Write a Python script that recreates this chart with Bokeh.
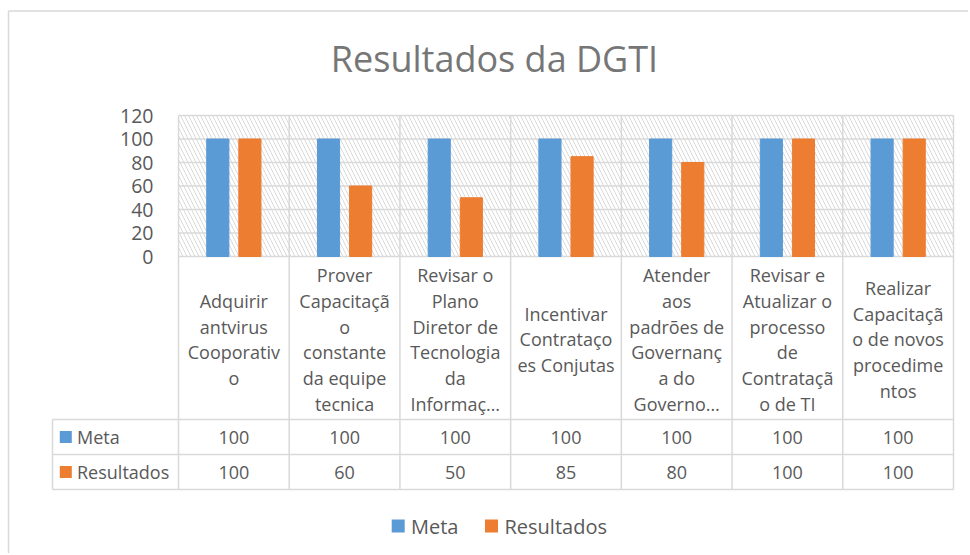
from bokeh.plotting import figure
from bokeh.models import Range1d
from bokeh.core.properties import value
from bokeh.embed import file_html
from bokeh.resources import INLINE

# ---------------- data ----------------
categories = [
    "Adquirir\nantvirus\nCooporativ\no",
    "Prover\nCapacitaçã\no\nconstante\nda equipe\ntecnica",
    "Revisar o\nPlano\nDiretor de\nTecnologia\nda\nInformaç…",
    "Incentivar\nContrataço\nes Conjutas",
    "Atender\naos\npadrões de\nGovernanç\na do\nGoverno…",
    "Revisar e\nAtualizar o\nprocesso\nde\nContrataçã\no de TI",
    "Realizar\nCapacitaçã\no de novos\nprocedime\nntos",
]
meta = [100, 100, 100, 100, 100, 100, 100]
resultados = [100, 60, 50, 85, 80, 100, 100]
series_names = ["Meta", "Resultados"]
y_ticks = [0, 20, 40, 60, 80, 100, 120]
title_text = "Resultados da DGTI"

# ---------------- style ----------------
BLUE = "#5B9BD5"
ORANGE = "#ED7D31"
GRID = "#D9D9D9"
TXT = "#595959"
FONT = "Open Sans"

n = len(categories)
centers = [i + 0.5 for i in range(n)]
YMAX = y_ticks[-1]

# ---------------- layout geometry (page pixels) ----------------
W, H = 968, 553            # figure size; the figure sits at the page origin
ORG_X, ORG_Y = 0, 0
PLOT_L, PLOT_R = 178, 953  # plot area left/right
PLOT_T, PLOT_B = 115, 256  # value YMAX / value 0
COLW = (PLOT_R - PLOT_L) / n
KY = (PLOT_B - PLOT_T) / YMAX


def X(px):
    return (px - PLOT_L) / COLW


def Y(py):
    return (PLOT_B - py) / KY


p = figure(width=W, height=H,
           x_range=Range1d(X(ORG_X), X(ORG_X + W)),
           y_range=Range1d(Y(ORG_Y + H), Y(ORG_Y)),
           output_backend="svg", toolbar_location=None,
           x_axis_location=None, y_axis_location=None, min_border=0)
p.outline_line_color = None
p.grid.visible = False
p.background_fill_color = "white"
p.border_fill_color = "white"

# chart area border (top and left visible in the reference)
p.segment(x0=[X(8), X(8)], y0=[Y(10.5), Y(10.5)], x1=[X(ORG_X + W), X(8)], y1=[Y(10.5), Y(ORG_Y + H)],
          line_color=GRID, line_width=1.5)

# hatched plot area background
p.quad(left=[0], right=[n], bottom=[0], top=[YMAX], fill_color="white", line_color=None,
       hatch_pattern="\\", hatch_color=GRID, hatch_scale=8, hatch_weight=1, level="image")

# horizontal gridlines
p.segment(x0=[0] * len(y_ticks), y0=y_ticks, x1=[n] * len(y_ticks), y1=y_ticks,
          line_color=GRID, line_width=1.5)

# table geometry
HEAD_B = 419
ROW1_B = 454
ROW2_B = 489
TAB_L = 52

# vertical lines: plot area + header cells + data rows
vx = list(range(n + 1))
p.segment(x0=vx, y0=[YMAX] * len(vx), x1=vx, y1=[Y(ROW2_B)] * len(vx), line_color=GRID, line_width=1.5)
p.segment(x0=[X(TAB_L)], y0=[Y(HEAD_B)], x1=[X(TAB_L)], y1=[Y(ROW2_B)], line_color=GRID, line_width=1.5)
hy = [Y(HEAD_B), Y(ROW1_B), Y(ROW2_B)]
p.segment(x0=[X(TAB_L)] * 3, y0=hy, x1=[n] * 3, y1=hy, line_color=GRID, line_width=1.5)

# bars
p.vbar(x=[c - 0.145 for c in centers], top=meta, width=0.2, color=BLUE)
p.vbar(x=[c + 0.145 for c in centers], top=resultados, width=0.2, color=ORANGE)

# value axis labels
p.text(x=[X(153)] * len(y_ticks), y=y_ticks, text=[str(t) for t in y_ticks],
       text_align="right", text_baseline="middle", text_font=value(FONT),
       text_font_size="19.5px", text_color=TXT)

# title
p.text(x=[X(494)], y=[Y(58)], text=[title_text], text_align="center",
       text_baseline="middle", text_font=value(FONT), text_font_size="36px",
       text_color="#767676")

# category labels (table header)
p.text(x=centers, y=[Y(339)] * n, text=categories, text_align="center",
       text_baseline="middle", text_font=value(FONT), text_font_size="18px",
       text_color=TXT, text_line_height=1.08)

# data rows
row_y = [Y((HEAD_B + ROW1_B) / 2), Y((ROW1_B + ROW2_B) / 2)]
for vals, yy in zip([meta, resultados], row_y):
    p.text(x=centers, y=[yy] * n, text=[str(v) for v in vals], text_align="center",
           text_baseline="middle", text_font=value(FONT), text_font_size="18px", text_color=TXT)

colors = [BLUE, ORANGE]
p.scatter(x=[X(65.3)] * 2, y=row_y, marker="square", size=12, color=colors, line_color=None)
p.text(x=[X(76.5)] * 2, y=row_y, text=series_names, text_align="left", text_baseline="middle",
       text_font=value(FONT), text_font_size="18px", text_color=TXT)

# legend
LEG_Y = Y(525.5)
p.scatter(x=[X(397.7), X(491)], y=[LEG_Y] * 2, marker="square", size=13, color=colors, line_color=None)
p.text(x=[X(410.5), X(504)], y=[LEG_Y] * 2, text=series_names, text_align="left",
       text_baseline="middle", text_font=value(FONT), text_font_size="20px", text_color=TXT)

open("out.html", "w").write(file_html(p, INLINE))
